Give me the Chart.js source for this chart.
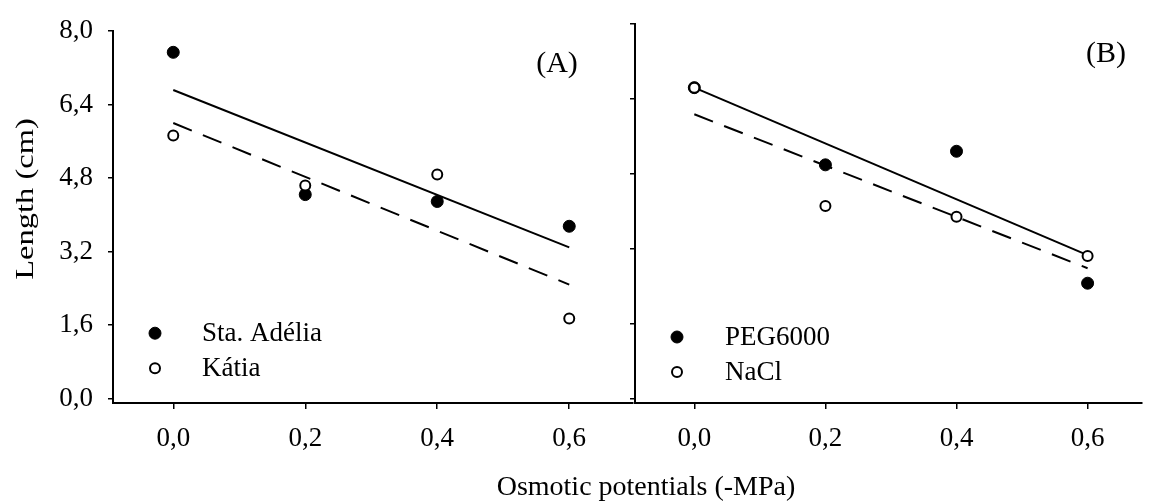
<!DOCTYPE html>
<html>
<head>
<meta charset="utf-8">
<script src="https://cdn.jsdelivr.net/npm/chart.js@4.4.0/dist/chart.umd.min.js"></script>
<style>
  html, body { margin: 0; padding: 0; background: #fff; }
  #wrap { position: relative; width: 1149px; height: 504px; overflow: hidden; }
  #chartA { position: absolute; left: 0; top: 0; }
  #chartB { position: absolute; left: 600px; top: 0; }
  #xTitle {
    position: absolute; left: 346px; width: 600px; top: 472px;
    text-align: center; font: 28px "Liberation Serif", serif; line-height: 28px; color: #000;
    white-space: nowrap;
  }
</style>
</head>
<body>
<div id="wrap">
  <canvas id="chartA" width="640" height="504"></canvas>
  <canvas id="chartB" width="549" height="504"></canvas>
  <div id="xTitle">Osmotic potentials (-MPa)</div>
</div>
<script>
  // osmotic potential levels (-MPa)
  const xLevels = [0, 0.2, 0.4, 0.6];
  const xTickLabels = ['0,0', '0,2', '0,4', '0,6'];
  const yTickValues = [0, 1.6, 3.2, 4.8, 6.4, 8.0];
  const yTickLabels = ['0,0', '1,6', '3,2', '4,8', '6,4', '8,0'];

  // panel A - cultivars
  const staAdelia = [7.54, 4.44, 4.29, 3.75];
  const katia = [5.73, 4.64, 4.88, 1.74];
  // panel B - osmotic agents
  const peg6000 = [6.64, 4.99, 5.28, 2.46];
  const nacl = [6.64, 4.11, 3.88, 3.04];

  // fitted lines (read at x = 0 and x = 0.6)
  const fitX = [0, 0.6];
  const staAdeliaFit = [6.72, 3.29];
  const katiaFit = [6.00, 2.48];
  const pegFit = [6.64, 3.06];
  const naclFit = [6.07, 2.78];

  const FONT = '"Liberation Serif", "Times New Roman", serif';

  function pts(xs, ys) {
    return xs.map((x, i) => ({ x: x, y: ys[i] }));
  }

  function filled(label, ys) {
    return { type: 'scatter', label: label, data: pts(xLevels, ys), pointRadius: 6, pointHoverRadius: 6,
      backgroundColor: '#000', borderColor: '#000', borderWidth: 1, order: 2 };
  }
  function hollow(label, ys) {
    return { type: 'scatter', label: label, data: pts(xLevels, ys), pointRadius: 5, pointHoverRadius: 5,
      backgroundColor: '#fff', borderColor: '#000', borderWidth: 2, order: 1 };
  }
  function fitLine(ys, dashed) {
    return { type: 'line', label: '', data: pts(fitX, ys), borderColor: '#000', borderWidth: 2,
      borderDash: dashed ? [20, 12] : [], pointRadius: 0, fill: false, order: 3 };
  }

  // panel tag, legend and y title drawn inside the panels
  const panelDecor = {
    id: 'panelDecor',
    afterDraw(chart, args, o) {
      const ctx = chart.ctx, area = chart.chartArea;
      ctx.save();
      ctx.fillStyle = '#000';
      ctx.textBaseline = 'middle';
      ctx.textAlign = 'center';
      ctx.font = '30px ' + FONT;
      ctx.fillText(o.tag, area.left + o.tagX, area.top + o.tagY);

      ctx.font = '27px ' + FONT;
      o.legend.forEach((idx, i) => {
        const ds = chart.data.datasets[idx];
        const x = area.left + o.legX;
        const y = area.top + o.legY + i * o.legGap;
        ctx.beginPath();
        ctx.arc(x, y, ds.pointRadius, 0, Math.PI * 2);
        ctx.fillStyle = ds.backgroundColor;
        ctx.fill();
        ctx.lineWidth = ds.borderWidth;
        ctx.strokeStyle = ds.borderColor;
        ctx.stroke();
        ctx.fillStyle = '#000';
        ctx.textAlign = 'left';
        ctx.fillText(ds.label, x + o.textDx, y + 1);
      });

      if (o.yTitle) {
        ctx.translate(o.yTitleX, o.yTitleY);
        ctx.rotate(-Math.PI / 2);
        ctx.scale(1.25, 1);
        ctx.textAlign = 'center';
        ctx.font = '26px ' + FONT;
        ctx.fillText(o.yTitle, 0, 0);
      }
      ctx.restore();
    }
  };

  function axes(xMin, xMax, yWidth, showYLabels) {
    const grid = { display: true, drawOnChartArea: false, drawTicks: true, tickLength: 6, color: '#000', lineWidth: 1.5 };
    const border = { display: true, color: '#000', width: 2 };
    return {
      x: {
        type: 'linear', min: xMin, max: xMax,
        grid: grid, border: border,
        afterBuildTicks: s => { s.ticks = xLevels.map(v => ({ value: v })); },
        afterFit: s => { s.height = 101; },
        ticks: { autoSkip: false, maxRotation: 0, padding: 14, color: '#000',
          font: { family: FONT, size: 27 },
          callback: (v, i) => xTickLabels[i] }
      },
      y: {
        type: 'linear', min: -0.1, max: 8.0,
        grid: Object.assign({}, grid, { tickLength: 5 }), border: border,
        afterBuildTicks: s => { s.ticks = yTickValues.map(v => ({ value: v })); },
        afterFit: s => { s.width = yWidth; },
        ticks: { display: showYLabels, autoSkip: false, padding: 15, color: '#000',
          font: { family: FONT, size: 27 },
          callback: (v, i) => yTickLabels[i] }
      }
    };
  }

  const common = {
    responsive: false,
    animation: false,
    devicePixelRatio: 1,
    events: []
  };

  new Chart(document.getElementById('chartA').getContext('2d'), {
    data: {
      datasets: [
        filled('Sta. Adélia', staAdelia),
        hollow('Kátia', katia),
        fitLine(staAdeliaFit, false),
        fitLine(katiaFit, true)
      ]
    },
    options: Object.assign({}, common, {
      layout: { padding: { left: 0, top: 24, right: 5, bottom: 0 } },
      scales: axes(-0.0913, 0.6966, 113, true),
      plugins: {
        legend: { display: false },
        tooltip: { enabled: false },
        panelDecor: { tag: '(A)', tagX: 444, tagY: 33, legend: [0, 1], legX: 42, legY: 302, legGap: 35, textDx: 47,
          yTitle: 'Length (cm)', yTitleX: 26, yTitleY: 199 }
      }
    }),
    plugins: [panelDecor]
  });

  new Chart(document.getElementById('chartB').getContext('2d'), {
    data: {
      datasets: [
        filled('PEG6000', peg6000),
        hollow('NaCl', nacl),
        fitLine(pegFit, false),
        fitLine(naclFit, true)
      ]
    },
    options: Object.assign({}, common, {
      layout: { padding: { left: 0, top: 24, right: 1, bottom: 0 } },
      scales: axes(-0.0905, 0.683, 35, false),
      plugins: {
        legend: { display: false },
        tooltip: { enabled: false },
        panelDecor: { tag: '(B)', tagX: 471, tagY: 30, legend: [0, 1], legX: 42, legY: 313, legGap: 35, textDx: 48 }
      }
    }),
    plugins: [panelDecor]
  });
</script>
</body>
</html>
